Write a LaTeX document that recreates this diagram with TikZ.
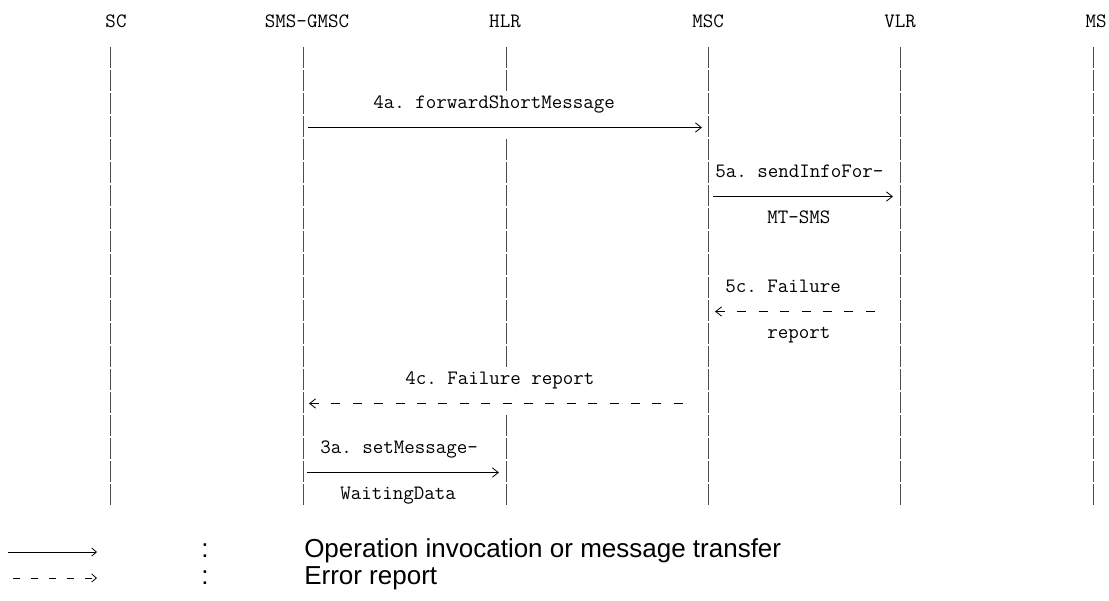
\documentclass[tikz,border=0pt]{standalone}
\usepackage{fontspec}
\setmainfont{Liberation Sans}
\usetikzlibrary{arrows.meta,calc,positioning}
\frenchspacing

\tikzset{
  entity/.style={font=\ttfamily\fontsize{15.3}{18}\selectfont,inner sep=0pt},
  lbl/.style={font=\ttfamily\fontsize{15.3}{18}\selectfont,inner sep=0pt,anchor=mid west},
  life/.style={draw=black!70,line width=0.7pt,dash pattern=on 16.1pt off 1.15pt},
  msg/.style={draw,line width=0.6pt,-{Straight Barb[length=4.5pt,width=7pt]}},
  err/.style={draw,line width=0.6pt,dash pattern=on 6.75pt off 9.3pt,{Straight Barb[length=4.5pt,width=7pt]}-},
  legtxt/.style={font=\fontsize{19.5}{23}\selectfont,inner sep=0pt,anchor=mid west},
}

\begin{document}
\begin{tikzpicture}[x=0.75pt,y=-0.75pt]
  \useasboundingbox (0,0) rectangle (1109,600);

  % entities
  \node[entity] (sc) at (116,21) {SC};
  \node[entity] (gmsc) at (307,21) {SMS-GMSC};
  \node[entity] (hlr) at (505,21) {HLR};
  \node[entity] (msc) at (708,21) {MSC};
  \node[entity] (vlr) at (900,21) {VLR};
  \node[entity] (ms) at (1096,21) {MS};

  % lifelines
  \coordinate (sc-top) at (110,47);   \coordinate (sc-bot) at (110,507);
  \coordinate (gmsc-top) at (303,47); \coordinate (gmsc-bot) at (303,507);
  \coordinate (hlr-top) at (506,47);  \coordinate (hlr-bot) at (506,507);
  \coordinate (msc-top) at (708,47);  \coordinate (msc-bot) at (708,507);
  \coordinate (vlr-top) at (900,47);  \coordinate (vlr-bot) at (900,507);
  \coordinate (ms-top) at (1093,47);  \coordinate (ms-bot) at (1093,507);
  \coordinate (hlr-a) at (506,93);  \coordinate (hlr-b) at (506,139);
  \coordinate (hlr-c) at (506,369); \coordinate (hlr-d) at (506,415);
  \draw[life] (sc-top) -- (sc-bot);
  \draw[life] (gmsc-top) -- (gmsc-bot);
  \draw[life] (hlr-top) -- (hlr-a) (hlr-b) -- (hlr-c) (hlr-d) -- (hlr-bot);
  \draw[life] (msc-top) -- (msc-bot);
  \draw[life] (vlr-top) -- (vlr-bot);
  \draw[life] (ms-top) -- (ms-bot);

  % message rows
  \coordinate (r3) at (0,127.5);
  \coordinate (r6) at (0,196.5);
  \coordinate (r11) at (0,311.5);
  \coordinate (r15) at (0,403.5);
  \coordinate (r18) at (0,472.5);

  \node[lbl] (t4a) at (373,104.5) {4a. forwardShortMessage};
  \draw[msg] ($(gmsc-top |- r3)+(5,0)$) -- ($(msc-top |- r3)+(-6,0)$);

  \node[lbl] (t5a) at (715,173.5) {5a. sendInfoFor-};
  \draw[msg] ($(msc-top |- r6)+(5,0)$) -- ($(vlr-top |- r6)+(-7,0)$);
  \node[lbl] (t5a2) at (767,219.5) {MT-SMS};

  \node[lbl] (t5c) at (725,288.5) {5c. Failure};
  \draw[err] ($(msc-top |- r11)+(7,0)$) -- ($(vlr-top |- r11)+(-18,0)$);
  \node[lbl] (t5c2) at (767,334.5) {report};

  \node[lbl] (t4c) at (405,380.5) {4c. Failure report};
  \draw[err] ($(gmsc-top |- r15)+(6,0)$) -- ($(msc-top |- r15)+(-20,0)$);

  \node[lbl] (t3a) at (320,449.5) {3a. setMessage-};
  \draw[msg] ($(gmsc-top |- r18)+(4,0)$) -- ($(hlr-top |- r18)+(-7,0)$);
  \node[lbl] (t3a2) at (340,495.5) {WaitingData};

  % legend
  \coordinate (k1a) at (8,552);  \coordinate (k1b) at (97,552);
  \coordinate (k2a) at (13,578); \coordinate (k2b) at (97,578);
  \draw[line width=0.6pt,-{Straight Barb[length=3.5pt,width=6pt]}] (k1a) -- (k1b);
  \draw[line width=0.6pt,dash pattern=on 5.25pt off 8.25pt,-{Straight Barb[length=3.5pt,width=6pt]}] (k2a) -- (k2b);
  \node[legtxt,anchor=mid] (c1) at (205,554) {:};
  \node[legtxt,anchor=mid] (c2) at (205,581) {:};
  \node[legtxt] (op) at (304,554) {Operation invocation or message transfer};
  \node[legtxt] (er) at (304,581) {Error report};
\end{tikzpicture}
\end{document}
